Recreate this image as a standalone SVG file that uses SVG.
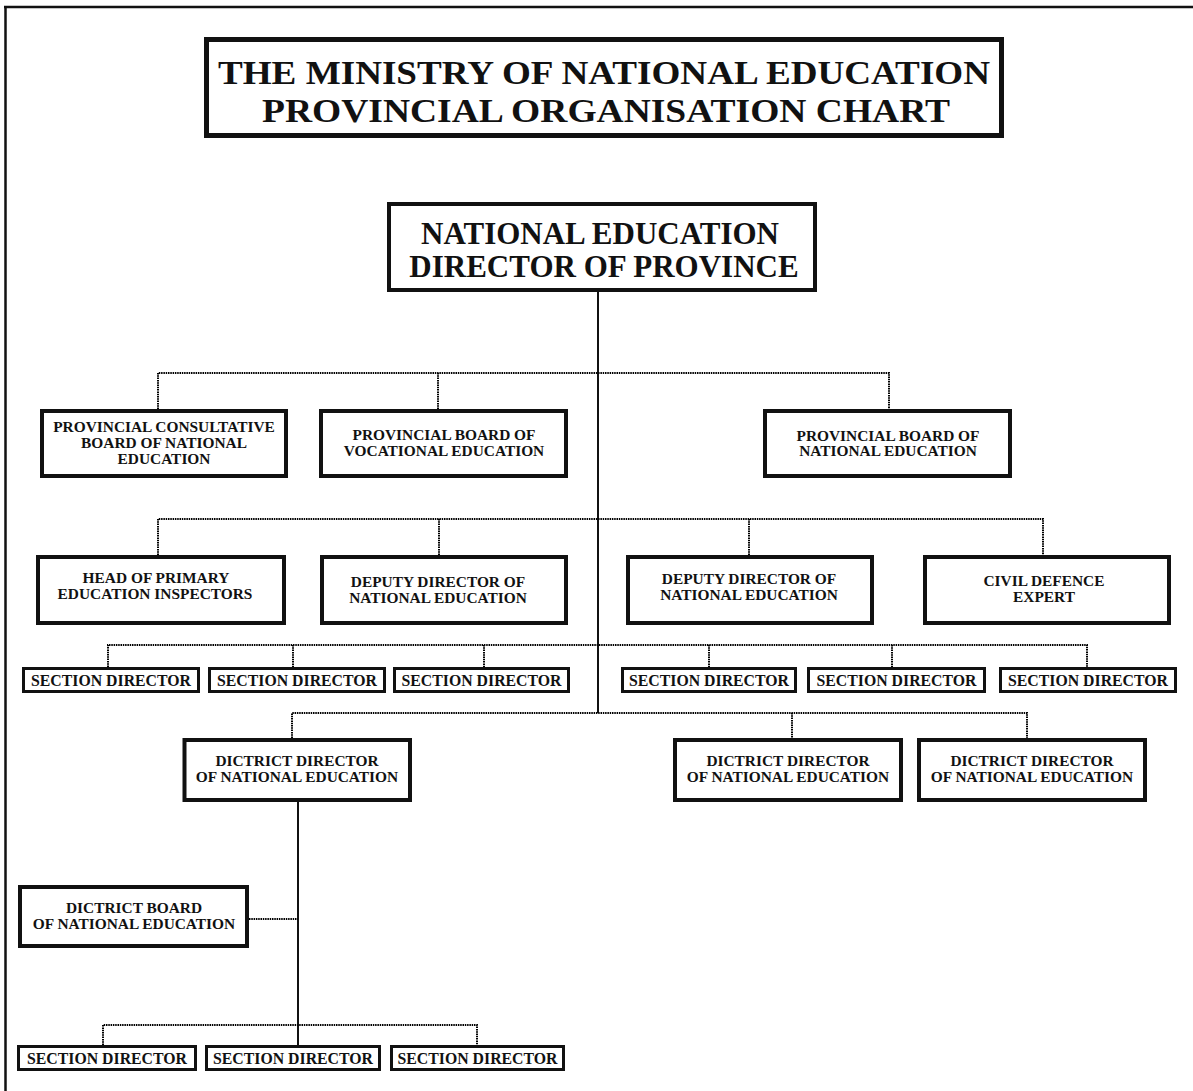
<svg xmlns="http://www.w3.org/2000/svg" width="1193" height="1091" viewBox="0 0 1193 1091">
<style>
  text { font-family: "Liberation Serif", "Times New Roman", serif; font-weight: bold; fill: #111; text-anchor: middle; }
  .box { fill: #fff; stroke: #111; stroke-width: 4; }
  .sec { fill: #fff; stroke: #111; stroke-width: 3; }
  .t { font-size: 15.4px; }
  .s { font-size: 15.8px; }
  .solid { stroke: #111; stroke-width: 2; fill: none; }
  .dot { stroke: #000; stroke-width: 2; fill: none; stroke-dasharray: 1.5 0.8; }
</style>
<rect x="0" y="0" width="1193" height="1091" fill="#fff"/>
<g id="frame">
  <line x1="4" y1="7" x2="1193" y2="7" stroke="#111" stroke-width="2.5"/>
  <line x1="5.5" y1="6" x2="5.5" y2="1091" stroke="#111" stroke-width="2.5"/>
</g>
<g id="connectors">
  <line class="solid" x1="598" y1="292" x2="598" y2="713"/>
  <polyline class="dot" points="158,409 158,373 889,373 889,409"/>
  <line class="dot" x1="438" y1="373" x2="438" y2="409"/>
  <polyline class="dot" points="158,555 158,519 1043,519 1043,555"/>
  <line class="dot" x1="439" y1="519" x2="439" y2="555"/>
  <line class="dot" x1="749" y1="519" x2="749" y2="555"/>
  <polyline class="dot" points="108,667 108,645 1087,645 1087,667"/>
  <line class="dot" x1="293" y1="645" x2="293" y2="667"/>
  <line class="dot" x1="484" y1="645" x2="484" y2="667"/>
  <line class="dot" x1="709" y1="645" x2="709" y2="667"/>
  <line class="dot" x1="892" y1="645" x2="892" y2="667"/>
  <polyline class="dot" points="292,738 292,713 1027,713 1027,738"/>
  <line class="dot" x1="792" y1="713" x2="792" y2="738"/>
  <line class="solid" x1="298" y1="802" x2="298" y2="1045"/>
  <line class="dot" x1="249" y1="919" x2="298" y2="919"/>
  <polyline class="dot" points="103,1045 103,1025 477,1025 477,1045"/>
</g>
<g id="title">
  <rect x="206.5" y="39.5" width="795" height="96" fill="#fff" stroke="#111" stroke-width="5"/>
  <text x="604" y="84" font-size="34" textLength="772" lengthAdjust="spacingAndGlyphs">THE MINISTRY OF NATIONAL EDUCATION</text>
  <text x="606" y="122" font-size="34" textLength="688" lengthAdjust="spacingAndGlyphs">PROVINCIAL ORGANISATION CHART</text>
</g>
<g id="director-province">
  <rect class="box" x="389" y="204" width="426" height="86"/>
  <text x="600" y="244" font-size="31">NATIONAL EDUCATION</text>
  <text x="604" y="277" font-size="31">DIRECTOR OF PROVINCE</text>
</g>
<g id="consultative-board">
  <rect class="box" x="42" y="411" width="244" height="65"/>
  <text class="t" x="164" y="432">PROVINCIAL CONSULTATIVE</text>
  <text class="t" x="164" y="448">BOARD OF NATIONAL</text>
  <text class="t" x="164" y="464">EDUCATION</text>
</g>
<g id="vocational-board">
  <rect class="box" x="321" y="411" width="245" height="65"/>
  <text class="t" x="444" y="440">PROVINCIAL BOARD OF</text>
  <text class="t" x="444" y="456">VOCATIONAL EDUCATION</text>
</g>
<g id="national-board">
  <rect class="box" x="765" y="411" width="245" height="65"/>
  <text class="t" x="888" y="441">PROVINCIAL BOARD OF</text>
  <text class="t" x="888" y="456">NATIONAL EDUCATION</text>
</g>
<g id="head-primary">
  <rect class="box" x="38" y="557" width="246" height="66"/>
  <text class="t" x="156" y="583">HEAD OF PRIMARY</text>
  <text class="t" x="155" y="599">EDUCATION INSPECTORS</text>
</g>
<g id="deputy-1">
  <rect class="box" x="322" y="557" width="244" height="66"/>
  <text class="t" x="438" y="587">DEPUTY DIRECTOR OF</text>
  <text class="t" x="438" y="603">NATIONAL EDUCATION</text>
</g>
<g id="deputy-2">
  <rect class="box" x="628" y="557" width="244" height="66"/>
  <text class="t" x="749" y="584">DEPUTY DIRECTOR OF</text>
  <text class="t" x="749" y="600">NATIONAL EDUCATION</text>
</g>
<g id="civil-defence">
  <rect class="box" x="925" y="557" width="244" height="66"/>
  <text class="t" x="1044" y="586">CIVIL DEFENCE</text>
  <text class="t" x="1044" y="602">EXPERT</text>
</g>
<g id="section-1"><rect class="sec" x="23.5" y="668.5" width="175" height="23"/><text class="s" x="111" y="686">SECTION DIRECTOR</text></g>
<g id="section-2"><rect class="sec" x="209.5" y="668.5" width="175" height="23"/><text class="s" x="297" y="686">SECTION DIRECTOR</text></g>
<g id="section-3"><rect class="sec" x="394.5" y="668.5" width="174" height="23"/><text class="s" x="481.5" y="686">SECTION DIRECTOR</text></g>
<g id="section-4"><rect class="sec" x="622.5" y="668.5" width="173" height="23"/><text class="s" x="709" y="686">SECTION DIRECTOR</text></g>
<g id="section-5"><rect class="sec" x="808.5" y="668.5" width="176" height="23"/><text class="s" x="896.5" y="686">SECTION DIRECTOR</text></g>
<g id="section-6"><rect class="sec" x="1000.5" y="668.5" width="175" height="23"/><text class="s" x="1088" y="686">SECTION DIRECTOR</text></g>
<g id="district-1">
  <rect class="box" x="184.5" y="740" width="225.5" height="60"/>
  <text class="t" x="297" y="766">DICTRICT DIRECTOR</text>
  <text class="t" x="297" y="782">OF NATIONAL EDUCATION</text>
</g>
<g id="district-2">
  <rect class="box" x="675" y="740" width="226" height="60"/>
  <text class="t" x="788" y="766">DICTRICT DIRECTOR</text>
  <text class="t" x="788" y="782">OF NATIONAL EDUCATION</text>
</g>
<g id="district-3">
  <rect class="box" x="919" y="740" width="226" height="60"/>
  <text class="t" x="1032" y="766">DICTRICT DIRECTOR</text>
  <text class="t" x="1032" y="782">OF NATIONAL EDUCATION</text>
</g>
<g id="district-board">
  <rect class="box" x="20" y="887" width="227" height="59"/>
  <text class="t" x="134" y="913">DICTRICT BOARD</text>
  <text class="t" x="134" y="929">OF NATIONAL EDUCATION</text>
</g>
<g id="section-7"><rect class="sec" x="18.5" y="1046.5" width="177" height="23"/><text class="s" x="107" y="1064">SECTION DIRECTOR</text></g>
<g id="section-8"><rect class="sec" x="206.5" y="1046.5" width="173" height="23"/><text class="s" x="293" y="1064">SECTION DIRECTOR</text></g>
<g id="section-9"><rect class="sec" x="391.5" y="1046.5" width="172" height="23"/><text class="s" x="477.5" y="1064">SECTION DIRECTOR</text></g>
</svg>
